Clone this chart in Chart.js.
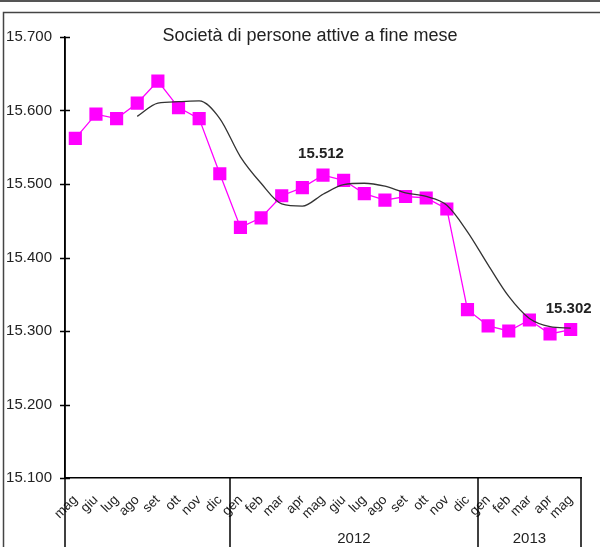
<!DOCTYPE html>
<html>
<head>
<meta charset="utf-8">
<script src="https://cdn.jsdelivr.net/npm/chart.js@4/dist/chart.umd.min.js"></script>
<style>
  body { margin: 0; background: #fff; }
  canvas { display: block; }
</style>
</head>
<body>
<canvas id="chart" width="600" height="547"></canvas>
<script>
// ========================
// DATA
// ========================
const months = ['mag', 'giu', 'lug', 'ago', 'set', 'ott', 'nov', 'dic',
                'gen', 'feb', 'mar', 'apr', 'mag', 'giu', 'lug', 'ago', 'set', 'ott', 'nov', 'dic',
                'gen', 'feb', 'mar', 'apr', 'mag'];
const yearLabels = ['', '2012', '2013'];
const yearStarts = [0, 8, 20];

// monthly values (magenta squares)
const activeFirms = [15562, 15595, 15589, 15610, 15640, 15604, 15589, 15514,
                     15441, 15454, 15484, 15495, 15512, 15505, 15487, 15478, 15483, 15481, 15466, 15329,
                     15307, 15300, 15315, 15296, 15302];
// smoothed trend (black line)
const trend = [null, null, null, 15592, 15610, 15612, 15613, 15589,
               15537, 15501, 15473, 15470, 15486, 15499, 15501, 15497, 15488, 15483, 15471, 15435,
               15390, 15347, 15317, 15306, 15304];
const labeledPoints = [12, 24];
const yTicks = [15100, 15200, 15300, 15400, 15500, 15600, 15700];

const title = 'Società di persone attive a fine mese';

function fmt(v) {
    return String(v).replace(/\B(?=(\d{3})+(?!\d))/g, '.');
}

// ========================
// EXTRA DRAWING
// ========================
const extras = {
    id: 'extras',
    beforeDraw(chart) {
        const ctx = chart.ctx;
        ctx.save();
        ctx.fillStyle = '#fff';
        ctx.fillRect(0, 0, chart.width, chart.height);
        // outer frame
        ctx.strokeStyle = '#555';
        ctx.lineWidth = 2;
        ctx.beginPath();
        ctx.moveTo(0, 1); ctx.lineTo(chart.width, 1);
        ctx.stroke();
        ctx.strokeStyle = '#444';
        ctx.lineWidth = 1.5;
        ctx.beginPath();
        ctx.moveTo(3.5, chart.height); ctx.lineTo(3.5, 12.5); ctx.lineTo(chart.width, 12.5);
        ctx.stroke();
        ctx.restore();
    },
    afterDraw(chart) {
        const ctx = chart.ctx;
        const x = chart.scales.x;
        const y = chart.scales.y;
        const area = chart.chartArea;
        const half = (x.getPixelForValue(1) - x.getPixelForValue(0)) / 2;
        ctx.save();
        ctx.strokeStyle = '#000';
        ctx.lineWidth = 1.5;

        // y tick marks crossing the axis
        yTicks.forEach(function(v) {
            const py = Math.round(y.getPixelForValue(v)) + 0.5;
            ctx.beginPath();
            ctx.moveTo(area.left - 5, py); ctx.lineTo(area.left + 5, py);
            ctx.stroke();
        });

        // group separators below the axis
        const bounds = yearStarts.concat([months.length]);
        bounds.forEach(function(i) {
            const px = Math.round(x.getPixelForValue(i) - half);
            ctx.beginPath();
            ctx.moveTo(px, i === 0 ? area.top : area.bottom);
            ctx.lineTo(px, chart.height);
            ctx.stroke();
        });

        // year labels
        ctx.fillStyle = '#222';
        ctx.font = '15px "Liberation Sans", Arial, sans-serif';
        ctx.textAlign = 'center';
        ctx.textBaseline = 'middle';
        yearLabels.forEach(function(label, k) {
            if (!label) return;
            const a = x.getPixelForValue(yearStarts[k]) - half;
            const b = x.getPixelForValue(bounds[k + 1]) - half;
            ctx.fillText(label, (a + b) / 2, 539);
        });

        // title
        ctx.font = '18px "Liberation Sans", Arial, sans-serif';
        ctx.fillText(title, 310, 36);

        // value labels
        const meta = chart.getDatasetMeta(1);
        ctx.font = 'bold 15px "Liberation Sans", Arial, sans-serif';
        labeledPoints.forEach(function(i) {
            const p = meta.data[i];
            ctx.fillText(fmt(activeFirms[i]), p.x - 2, p.y - 21);
        });
        ctx.restore();
    }
};

// ========================
// CHART
// ========================
new Chart(document.getElementById('chart'), {
    type: 'line',
    data: {
        labels: months,
        datasets: [{
            label: 'trend',
            data: trend,
            borderColor: '#333',
            borderWidth: 1.3,
            pointRadius: 0,
            cubicInterpolationMode: 'monotone',
            fill: false
        }, {
            label: 'attive',
            data: activeFirms,
            borderColor: '#ff00ff',
            backgroundColor: '#ff00ff',
            borderWidth: 1.3,
            pointStyle: 'rect',
            pointRadius: 9.3,
            pointBorderWidth: 0,
            tension: 0,
            fill: false
        }]
    },
    options: {
        responsive: false,
        animation: false,
        layout: { padding: { top: 37, right: 19, left: 0, bottom: 0 } },
        plugins: {
            legend: { display: false },
            tooltip: { enabled: false }
        },
        scales: {
            x: {
                offset: true,
                grid: { display: false },
                border: { display: true, color: '#000', width: 1.5 },
                ticks: {
                    autoSkip: false,
                    minRotation: 45,
                    maxRotation: 45,
                    padding: 6,
                    color: '#222',
                    font: { family: '"Liberation Sans", Arial, sans-serif', size: 13.5 }
                },
                afterFit(scale) { scale.height = 69; }
            },
            y: {
                min: 15100,
                max: 15700,
                grid: { display: false },
                border: { display: true, color: '#000', width: 1.5 },
                ticks: {
                    stepSize: 100,
                    padding: 5,
                    color: '#222',
                    font: { family: '"Liberation Sans", Arial, sans-serif', size: 15 },
                    callback: function(v) { return fmt(v); }
                },
                afterFit(scale) { scale.width = 65; }
            }
        }
    },
    plugins: [extras]
});
</script>
</body>
</html>
